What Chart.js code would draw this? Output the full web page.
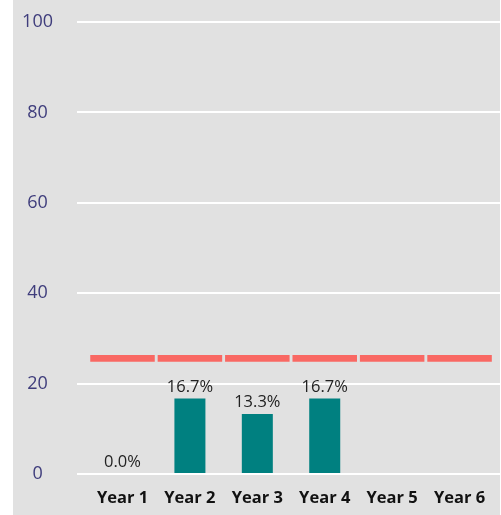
<!DOCTYPE html>
<html>
<head>
<meta charset="utf-8">
<script src="https://cdn.jsdelivr.net/npm/chart.js@4.4.0/dist/chart.umd.min.js"></script>
<style>
  html, body { margin: 0; padding: 0; background: #ffffff; }
  #wrap { width: 501px; height: 515px; }
</style>
</head>
<body>
<div id="wrap"><canvas id="chart" width="501" height="515"></canvas></div>
<script>
// Data
const years = ["Year 1", "Year 2", "Year 3", "Year 4", "Year 5", "Year 6"];
const rates = [0, 16.7, 13.3, 16.7, null, null];
const targets = [25.6, 25.6, 25.6, 25.6, 25.6, 25.6];
const yTicks = [0, 20, 40, 60, 80, 100];

const targetHalf = 0.74; // half thickness of the target marker, in axis units

// gray panel behind the chart
const panelBg = {
  id: "panelBg",
  beforeDraw(chart) {
    const ctx = chart.ctx;
    ctx.save();
    ctx.fillStyle = "#e1e1e1";
    ctx.fillRect(13, 0, 487, chart.height);
    ctx.restore();
  },
};

// percentage labels above the bars
const barLabels = {
  id: "barLabels",
  afterDatasetsDraw(chart) {
    const ctx = chart.ctx;
    const meta = chart.getDatasetMeta(1);
    ctx.save();
    ctx.font = "16.5px 'Open Sans'";
    ctx.fillStyle = "#222222";
    ctx.textAlign = "center";
    ctx.textBaseline = "bottom";
    meta.data.forEach((bar, i) => {
      const v = rates[i];
      if (v === null) return;
      ctx.fillText(v.toFixed(1) + "%", bar.x, bar.y - 3);
    });
    ctx.restore();
  },
};

new Chart(document.getElementById("chart"), {
  type: "bar",
  data: {
    datasets: [
      {
        label: "Target",
        data: targets.map((t, i) => ({ x: i, y: [t - targetHalf, t + targetHalf] })),
        backgroundColor: "#f96863",
        grouped: false,
        categoryPercentage: 1,
        barPercentage: 0.957,
        borderSkipped: false,
      },
      {
        label: "Rate",
        data: rates.map((v, i) => ({ x: i, y: v })),
        backgroundColor: "#008080",
        grouped: false,
        categoryPercentage: 1,
        barPercentage: 0.46,
      },
    ],
  },
  options: {
    responsive: false,
    animation: false,
    layout: { padding: { left: 13, right: 1, top: 22, bottom: 0 } },
    plugins: {
      legend: { display: false },
      tooltip: { enabled: false },
    },
    scales: {
      x: {
        type: "linear",
        offset: false,
        min: -0.675,
        max: 5.6,
        grid: { display: false },
        border: { display: false },
        afterBuildTicks: (scale) => {
          scale.ticks = years.map((_, i) => ({ value: i }));
        },
        afterFit: (scale) => {
          scale.height = 41;
        },
        ticks: {
          autoSkip: false,
          maxRotation: 0,
          padding: 6,
          color: "#111111",
          font: { family: "'Open Sans'", size: 16.5, weight: "bold" },
          callback: (value) => years[value],
        },
      },
      y: {
        min: 0,
        max: 100,
        afterBuildTicks: (scale) => {
          scale.ticks = yTicks.map((v) => ({ value: v }));
        },
        afterFit: (scale) => {
          scale.width = 64;
          scale.paddingTop = 0;
          scale.paddingBottom = 0;
        },
        grid: { color: "#ffffff", lineWidth: 2, drawTicks: false },
        border: { display: false },
        ticks: {
          crossAlign: "center",
          padding: 24,
          color: "#3f3d7c",
          font: { family: "'Open Sans'", size: 18 },
        },
      },
    },
  },
  plugins: [panelBg, barLabels],
});
</script>
</body>
</html>
